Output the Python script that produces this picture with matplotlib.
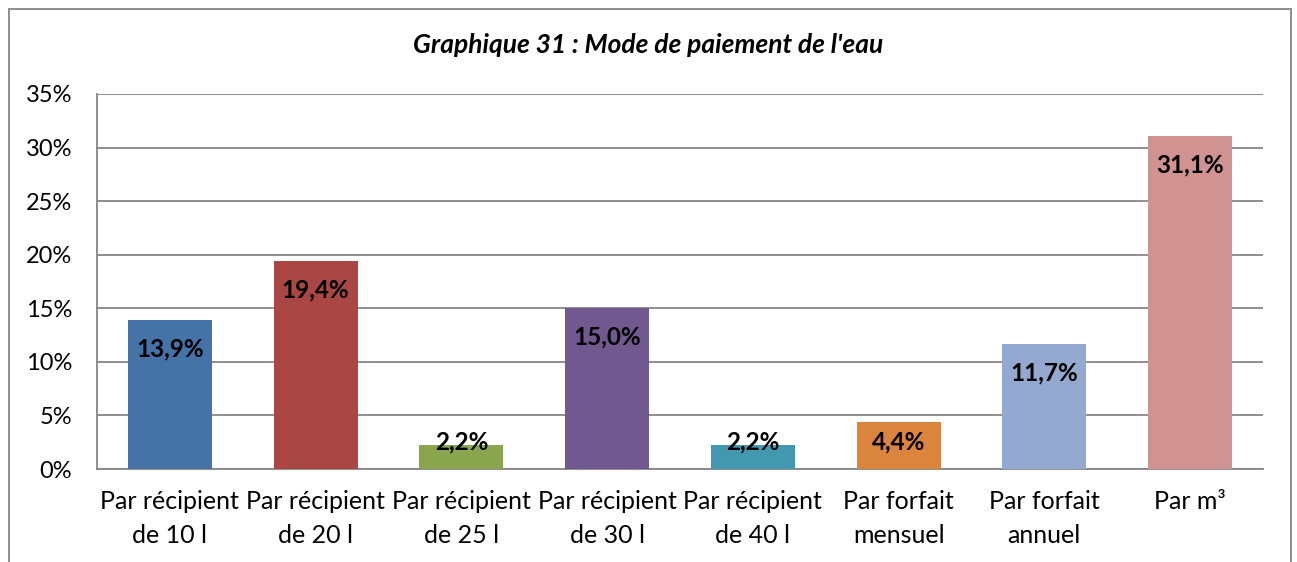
import matplotlib.pyplot as plt
import numpy as np
from matplotlib.patches import Rectangle

plt.rcParams['font.family'] = ['Lato', 'DejaVu Sans']

categories = ["Par récipient\nde 10 l", "Par récipient\nde 20 l", "Par récipient\nde 25 l",
              "Par récipient\nde 30 l", "Par récipient\nde 40 l", "Par forfait\nmensuel",
              "Par forfait\nannuel", "Par m³"]
values = [13.9, 19.4, 2.2, 15.0, 2.2, 4.4, 11.7, 31.1]
labels = ["13,9%", "19,4%", "2,2%", "15,0%", "2,2%", "4,4%", "11,7%", "31,1%"]
colors = ["#4572A7", "#AA4643", "#89A54E", "#71588F", "#4198AF", "#DB843D", "#93A9CF", "#D19392"]
yticks = [0, 5, 10, 15, 20, 25, 30, 35]

fig = plt.figure(figsize=(12.97, 5.62), dpi=100)
ax = fig.add_axes([97 / 1297, 1 - 469 / 562, (1263 - 97) / 1297, (469 - 94) / 562])

# outer chart border
fig.patches.append(Rectangle((9 / 1297, -0.1), (1291 - 9) / 1297, 1.1 - 9 / 562,
                             transform=fig.transFigure, fill=False,
                             edgecolor="#868686", linewidth=1.3))

x = np.arange(len(values))
ax.bar(x, values, width=0.576, color=colors, zorder=3)

for xi, v, lab in zip(x, values, labels):
    ax.text(xi, max(v - 2.7, 2.5), lab, ha='center', va='center',
            fontsize=17.5, fontweight='bold', color='black', zorder=4)

ax.set_xlim(-0.5, len(values) - 0.5)
ax.set_ylim(0, 35)
ax.set_yticks(yticks)
ax.set_yticklabels([f"{t}%" for t in yticks])
ax.set_xticks(x)
ax.set_xticklabels(categories, linespacing=1.6)
ax.tick_params(axis='y', length=0, pad=18, labelsize=17)
ax.tick_params(axis='x', length=0, pad=15, labelsize=18)
ax.yaxis.grid(True, color="#868686", linewidth=1.3, zorder=0)

for s in ['top', 'right']:
    ax.spines[s].set_visible(False)
for s in ['left', 'bottom']:
    ax.spines[s].set_color("#868686")
    ax.spines[s].set_linewidth(1.3)

fig.text(0.5, 1 - 45 / 562, "Graphique 31 : Mode de paiement de l'eau", ha='center',
         va='center', fontsize=19, fontweight='bold', fontstyle='italic')

fig.savefig("out.png", dpi=100)
